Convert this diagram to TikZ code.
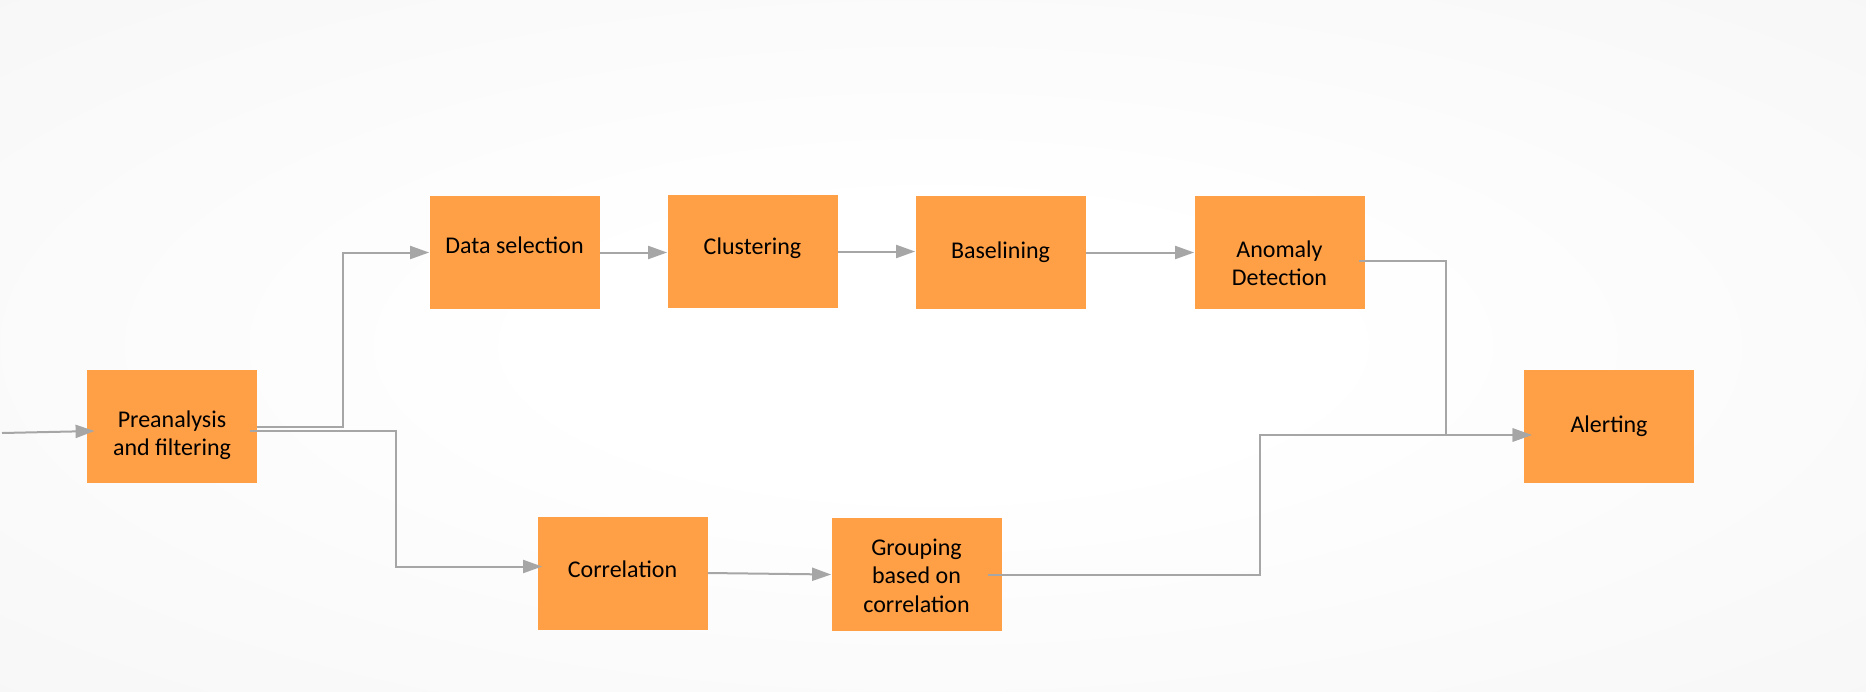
\documentclass[tikz,border=0pt]{standalone}
\usepackage{fontspec}
\setmainfont{Carlito}
\usepackage{tikz}
\usetikzlibrary{arrows.meta,calc}
\definecolor{stageorange}{HTML}{FFA047}
\definecolor{flowgray}{HTML}{A6A6A6}
\definecolor{bgmid}{HTML}{F3F3F3}
\definecolor{bgedge}{HTML}{EBEBEB}
\pgfdeclareradialshading{slidebg}{\pgfpoint{0bp}{0bp}}{color(0bp)=(white); color(10bp)=(white); color(50bp)=(bgmid); color(71bp)=(bgedge)}
\newcommand{\stagetext}[2]{\raisebox{#1}[\height][\depth]{\begin{tabular}{@{}c@{}}#2\end{tabular}}}

\begin{document}
\begin{tikzpicture}[x=0.5pt,y=-0.5pt,font=\fontsize{12}{14.2}\selectfont,
  stage/.style={fill=stageorange,draw=none,minimum width=85pt,minimum height=56.5pt,align=center,inner sep=2pt},
  flow/.style={draw=flowgray,line width=1pt,-{Triangle[length=9.5pt,width=6.5pt]}}]
\shade[shading=slidebg] (0,0) rectangle (1866,691);
\useasboundingbox (0,0) rectangle (1866,691);
\node[stage] (pre) at (172,426.5) {\stagetext{-4.8pt}{Preanalysis\\and filtering}};
\node[stage] (data) at (514.5,252.5) {\stagetext{2.4pt}{Data selection}};
\node[stage] (clust) at (752.5,251.5) {\stagetext{1.2pt}{Clustering}};
\node[stage] (base) at (1000.5,252.5) {\stagetext{0pt}{Baselining}};
\node[stage] (anom) at (1279.5,252.5) {\stagetext{-6.6pt}{Anomaly\\Detection}};
\node[stage] (alert) at (1609,426.5) {\stagetext{0pt}{Alerting}};
\node[stage] (corr) at (622.5,573) {\stagetext{0.6pt}{Correlation}};
\node[stage] (group) at (916.5,574.5) {\stagetext{-1.8pt}{Grouping\\based on\\correlation}};
\coordinate (in) at (2,433);
\draw[flow] (in) -- ($(pre.west)+(8,4.5)$);
\draw[flow] (pre.east) -- ++(86,0) |- (data.west);
\draw[flow] ($(pre.east)+(-7,4.5)$) -- ++(146,0) |- ($(corr.west)+(5,-6.5)$);
\draw[flow] (data.east) -- (data.east -| clust.west);
\draw[flow] (clust.east) -- (clust.east -| base.west);
\draw[flow] (base.east) -- (anom.west);
\draw[flow] ($(anom.east)+(-6,8.5)$) -- ++(87,0) |- ($(alert.west)+(8,8.5)$);
\draw[flow] (corr.east) -- (group.west);
\draw[flow] ($(group.east)+(-14,0)$) -- ++(272,0) |- ($(alert.west)+(8,8.5)$);
\end{tikzpicture}
\end{document}
